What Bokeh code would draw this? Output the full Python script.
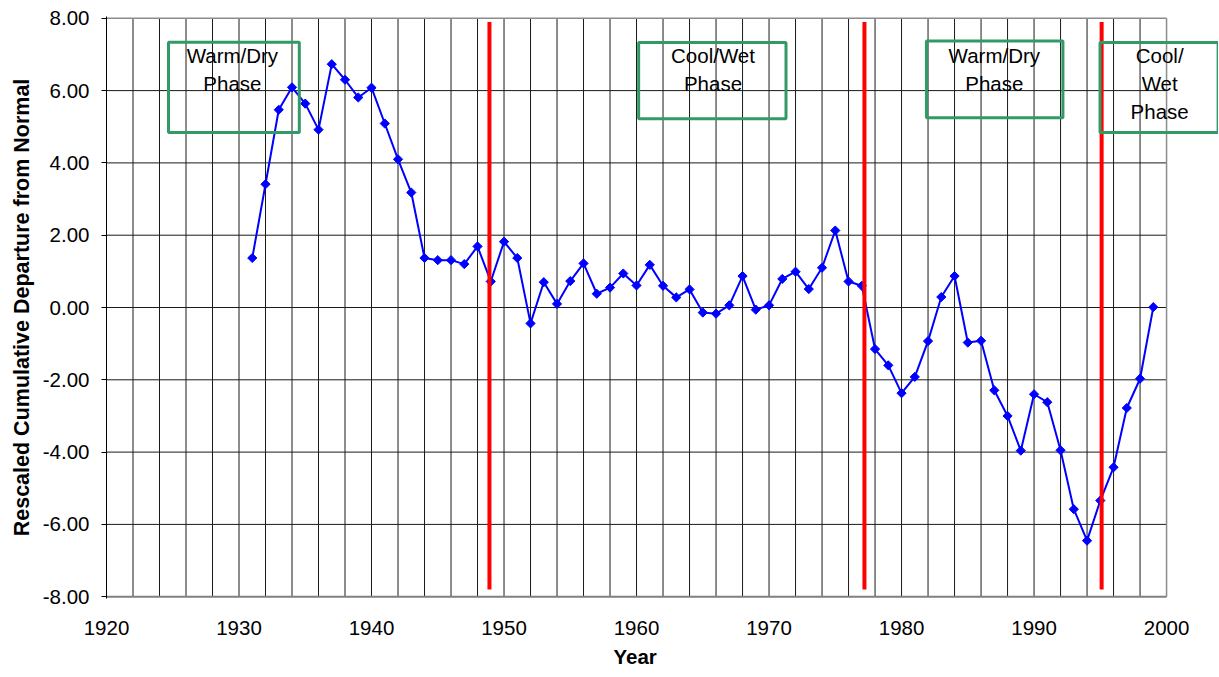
from bokeh.plotting import figure
from bokeh.models import Range1d, FixedTicker, NumeralTickFormatter, Label, Title
from bokeh.embed import file_html
from bokeh.resources import INLINE
import numpy as np

# ---- data ----
years = list(range(1931, 2000))
departure = [1.37, 3.41, 5.47, 6.09, 5.64, 4.92, 6.73, 6.30, 5.81, 6.08,
             5.09, 4.10, 3.18, 1.37, 1.31, 1.31, 1.20, 1.69, 0.72, 1.82,
             1.37, -0.44, 0.70, 0.10, 0.73, 1.22, 0.38, 0.55, 0.94, 0.61,
             1.18, 0.60, 0.28, 0.50, -0.14, -0.17, 0.06, 0.87, -0.06, 0.06,
             0.79, 0.99, 0.51, 1.10, 2.13, 0.72, 0.60, -1.15, -1.60, -2.37,
             -1.92, -0.93, 0.29, 0.87, -0.97, -0.92, -2.29, -3.00, -3.96, -2.40,
             -2.62, -3.95, -5.58, -6.45, -5.34, -4.42, -2.78, -1.97, 0.01]
x_tick_labels = [1920, 1930, 1940, 1950, 1960, 1970, 1980, 1990, 2000]
y_tick_values = [-8, -6, -4, -2, 0, 2, 4, 6, 8]
grid_years = list(range(1922, 2000, 2))
phase_change_years = [1948.9, 1977.2, 1995.1]
phase_texts = ["Warm/Dry\nPhase", "Cool/Wet\nPhase", "Warm/Dry\nPhase", "Cool/\nWet\nPhase"]

# ---- annotation layout (box extents, text anchor) ----
box_left = [1924.68, 1960.16, 1981.88, 1994.98]
box_right = [1934.55, 1971.28, 1992.18, 2003.89]
box_top = [7.34, 7.33, 7.37, 7.33]
box_bottom = [4.84, 5.22, 5.25, 4.84]
text_x = [1929.5, 1965.77, 1987.0, 1999.48]
text_y0 = 6.96
text_dy = 0.766

FONT = "Liberation Sans"
X0, X1 = x_tick_labels[0], x_tick_labels[-1]
Y0, Y1 = y_tick_values[0], y_tick_values[-1]

p = figure(width=1218, height=677,
           x_range=Range1d(X0, 2003.92), y_range=Range1d(Y0 - 0.05, Y1 + 0.05),
           output_backend="svg", toolbar_location=None,
           min_border_left=106, min_border_right=0,
           min_border_top=16, min_border_bottom=79)
p.background_fill_color = "white"
p.border_fill_color = "white"
p.outline_line_color = None
p.xgrid.visible = False
p.ygrid.visible = False

# x axis (line drawn manually so it stops at 2000)
p.xaxis.ticker = FixedTicker(ticks=x_tick_labels)
p.xaxis.major_tick_out = 0
p.xaxis.major_tick_in = 0
p.xaxis.minor_tick_line_color = None
p.xaxis.axis_line_color = None
p.xaxis.major_label_standoff = 22
p.xaxis.major_label_text_font = FONT
p.xaxis.major_label_text_font_size = "20.5px"
p.xaxis.major_label_text_color = "black"

p.add_layout(Title(text="Year", align="left", offset=507, standoff=10,
                   vertical_align="bottom",
                   text_font=FONT, text_font_style="bold",
                   text_font_size="20.5px", text_color="black"), "below")

# y axis
p.yaxis.ticker = FixedTicker(ticks=y_tick_values)
p.yaxis.formatter = NumeralTickFormatter(format="0.00")
p.yaxis.major_tick_out = 5
p.yaxis.major_tick_in = 0
p.yaxis.major_tick_line_color = "black"
p.yaxis.minor_tick_line_color = None
p.yaxis.axis_line_color = "black"
p.yaxis.major_label_standoff = 12
p.yaxis.major_label_text_font = FONT
p.yaxis.major_label_text_font_size = "20.5px"
p.yaxis.major_label_text_color = "black"
p.yaxis.axis_label = "Rescaled Cumulative Departure from Normal"
p.yaxis.axis_label_text_font = FONT
p.yaxis.axis_label_text_font_style = "bold"
p.yaxis.axis_label_text_font_size = "21.5px"
p.yaxis.axis_label_text_color = "black"
p.yaxis.axis_label_standoff = 6

# grid lines (stop at 2000)
p.segment(x0=grid_years, y0=[Y0] * len(grid_years), x1=grid_years, y1=[Y1] * len(grid_years),
          line_color="#1a1a1a", line_width=1)
inner_y = y_tick_values[1:-1]
p.segment(x0=[X0] * len(inner_y), y0=inner_y, x1=[X1] * len(inner_y), y1=inner_y,
          line_color="#1a1a1a", line_width=1)
# plot-area border (grey) and category axis line
p.segment(x0=[X0, X1], y0=[Y1, Y0], x1=[X1, X1], y1=[Y1, Y1],
          line_color="#8c8c8c", line_width=1.5)
p.segment(x0=[X0], y0=[Y0], x1=[X1], y1=[Y0], line_color="#808080", line_width=2)

# series
p.line(years, departure, line_color="#0000FF", line_width=2)
p.scatter(years, departure, marker="square", angle=np.pi / 4, size=6.5,
          fill_color="#0000FF", line_color="#0000FF", line_width=1)

# phase change lines
p.segment(x0=phase_change_years, y0=[7.9] * len(phase_change_years),
          x1=phase_change_years, y1=[-7.8] * len(phase_change_years),
          line_color="#FF0000", line_width=4)

# phase boxes and texts
p.quad(left=box_left, right=box_right, top=box_top, bottom=box_bottom,
       fill_color=None, line_color="#339966", line_width=3)
for i, txt in enumerate(phase_texts):
    for j, line in enumerate(txt.split("\n")):
        p.add_layout(Label(x=text_x[i], y=text_y0 - j * text_dy, text=line,
                           text_align="center", text_baseline="middle",
                           text_font=FONT, text_font_size="20.5px",
                           text_color="black"))

open("out.html", "w").write(file_html(p, INLINE))
